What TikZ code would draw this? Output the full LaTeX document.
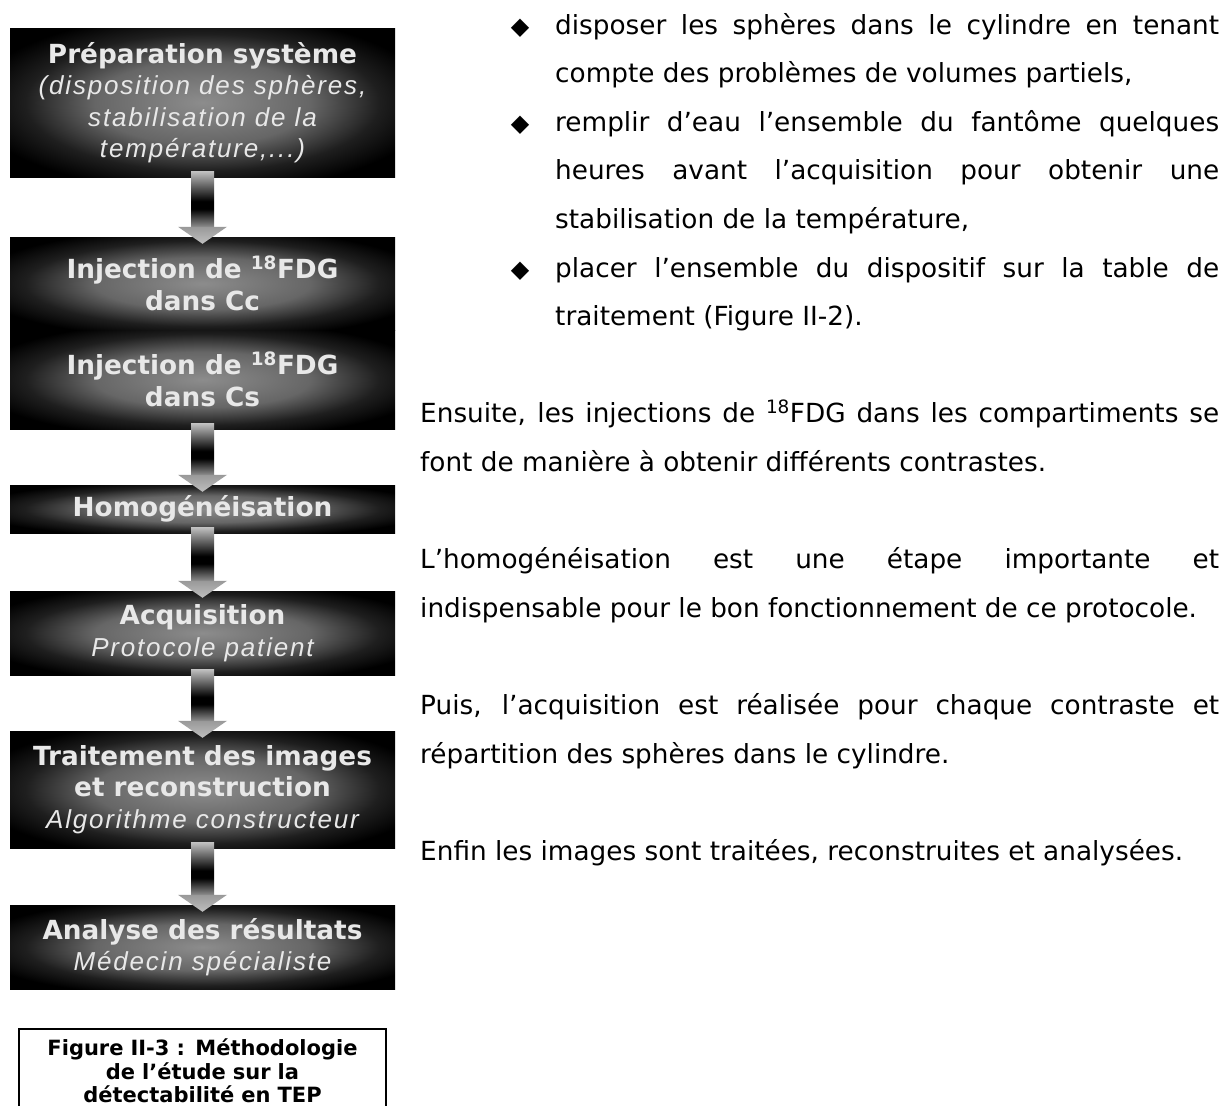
\documentclass[tikz,border=0pt]{standalone}
\usepackage{fontspec}
\setmainfont{DejaVu Sans}
\newfontfamily\boxitfont{Liberation Sans}[LetterSpace=7]
\usetikzlibrary{calc}

\definecolor{boxtext}{RGB}{232,232,232}
\definecolor{glowmid}{gray}{0.55}
\definecolor{glowring}{gray}{0.40}
\definecolor{glowedge}{gray}{0.12}
\definecolor{shaftlow}{gray}{0.55}
\definecolor{shafthigh}{gray}{0.76}
\pgfdeclareradialshading{boxglow}{\pgfpoint{0bp}{0bp}}{color(0bp)=(glowmid); color(14bp)=(glowring); color(23bp)=(glowedge); color(30bp)=(black); color(50bp)=(black)}
\pgfdeclareverticalshading{shaftshade}{100bp}{color(0bp)=(shaftlow); color(25bp)=(shaftlow); color(41bp)=(black); color(48bp)=(black); color(75bp)=(shafthigh); color(100bp)=(shafthigh)}

\newcommand{\soustitre}[1]{{\boxitfont\itshape\mdseries\fontsize{26}{31.5}\selectfont #1}}
\newcommand{\flowarrow}[2]{%
  \shade[shading=shaftshade] ($(#1.south)+(-11.5,6)$) rectangle ($(#2.north)+(11.5,10)$);
  \shade[top color=gray!80, bottom color=gray!50] ($(#2.north)+(-24.5,10)$) -- ($(#2.north)+(24.5,10)$) -- ($(#2.north)+(0,-7)$) -- cycle;}

\begin{document}
\begin{tikzpicture}[x=1pt,y=1pt,
  stepbox/.style={rectangle, shading=boxglow, minimum width=385pt, inner sep=0pt, text=boxtext, align=center, font=\fontsize{26.3}{31.5}\selectfont\bfseries},
  para/.style={anchor=base west, inner sep=0pt, text width=799pt, align=justify, font=\fontsize{26.3}{48.6}\selectfont},
  itemtext/.style={para, text width=664pt},
  puce/.style={anchor=base, inner sep=0pt, font=\fontsize{24}{48.6}\selectfont}]
  \useasboundingbox (0,0) rectangle (1224,-1106);

  % left column: the steps
  \node[stepbox, minimum height=149pt] (prep) at (202.5,-102.5) {Préparation système\\\soustitre{(disposition des sphères,}\\\soustitre{stabilisation de la}\\\soustitre{température,...)}};
  \node[stepbox, minimum height=93pt] (cc) at (202.5,-283.5) {Injection de \textsuperscript{18}FDG\\dans Cc};
  \node[stepbox, minimum height=99pt] (cs) at (202.5,-379.5) {Injection de \textsuperscript{18}FDG\\dans Cs};
  \node[stepbox, minimum height=48pt] (homog) at (202.5,-509) {Homogénéisation};
  \node[stepbox, minimum height=84pt] (acq) at (202.5,-633) {Acquisition\\\soustitre{Protocole patient}};
  \node[stepbox, minimum height=117pt] (trait) at (202.5,-789.5) {Traitement des images\\et reconstruction\\\soustitre{Algorithme constructeur}};
  \node[stepbox, minimum height=84pt] (analyse) at (202.5,-947) {Analyse des résultats\\\soustitre{Médecin spécialiste}};

  \flowarrow{prep}{cc}
  \flowarrow{cs}{homog}
  \flowarrow{homog}{acq}
  \flowarrow{acq}{trait}
  \flowarrow{trait}{analyse}

  \node[draw, line width=2pt, anchor=north, minimum width=367pt, text width=367pt, inner xsep=0pt, inner ysep=10pt, align=center, font=\fontsize{21}{23.5}\selectfont\bfseries] (legende) at (202.5,-1028) {Figure II-3 : Méthodologie\\de l’étude sur la\\détectabilité en TEP\\[6pt]};

  % right column: the text
  \node[puce] (p1) at (520,-34) {◆};
  \node[itemtext] (t1) at (555,-34) {disposer les sphères dans le cylindre en tenant\linebreak compte des problèmes de volumes partiels,};
  \node[puce] (p2) at (520,-131.2) {◆};
  \node[itemtext] (t2) at (555,-131.2) {remplir d’eau l’ensemble du fantôme quelques\linebreak heures avant l’acquisition pour obtenir une\linebreak stabilisation de la température,};
  \node[puce] (p3) at (520,-277) {◆};
  \node[itemtext] (t3) at (555,-277) {placer l’ensemble du dispositif sur la table de\linebreak traitement (Figure II-2).};
  \node[para] (ensuite) at (420,-422.8) {Ensuite, les injections de \textsuperscript{18}FDG dans les compartiments se\linebreak font de manière à obtenir différents contrastes.};
  \node[para] (homtxt) at (420,-568.6) {L’homogénéisation est une étape importante et\linebreak indispensable pour le bon fonctionnement de ce protocole.};
  \node[para] (puis) at (420,-714.4) {Puis, l’acquisition est réalisée pour chaque contraste et\linebreak répartition des sphères dans le cylindre.};
  \node[para] (enfin) at (420,-860.2) {Enfin les images sont traitées, reconstruites et analysées.};
\end{tikzpicture}
\end{document}
